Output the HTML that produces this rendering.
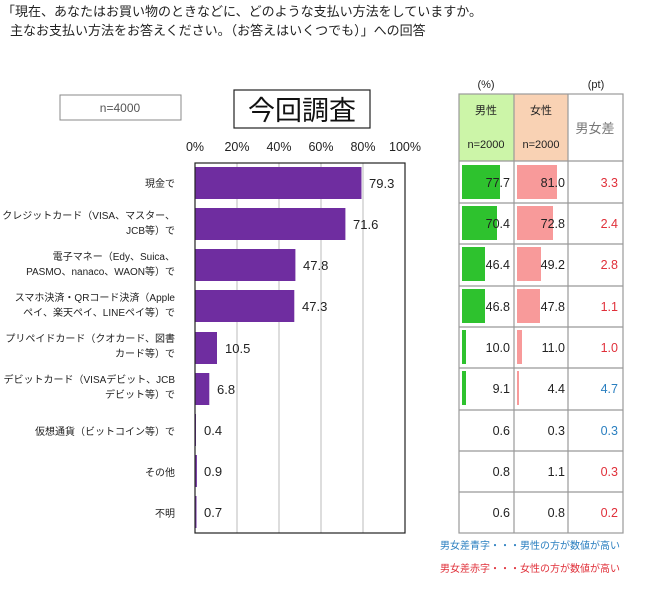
<!DOCTYPE html>
<html><head><meta charset="utf-8"><style>
html,body{margin:0;padding:0;background:#fff;}
svg{display:block;font-family:"Liberation Sans","Noto Sans CJK JP",sans-serif;}
</style></head><body>
<svg width="650" height="593" xmlns="http://www.w3.org/2000/svg">
<text x="2" y="16" font-size="13" fill="#222">「現在、あなたはお買い物のときなどに、どのような支払い方法をしていますか。</text>
<text x="10" y="35" font-size="13" fill="#222">主なお支払い方法をお答えください。（お答えはいくつでも）」への回答</text>
<rect x="60" y="95" width="121" height="25" fill="#fff" stroke="#888" stroke-width="1"/>
<text x="120" y="112" font-size="12" fill="#555" text-anchor="middle">n=4000</text>
<rect x="234" y="90" width="136" height="38" fill="#fff" stroke="#222" stroke-width="1.2"/>
<text x="302" y="120" font-size="27" fill="#111" text-anchor="middle">今回調査</text>
<g font-size="12.5" fill="#222" text-anchor="middle">
<text x="195" y="151">0%</text><text x="237" y="151">20%</text><text x="279" y="151">40%</text>
<text x="321" y="151">60%</text><text x="363" y="151">80%</text><text x="405" y="151">100%</text>
</g>
<g stroke="#bbb" stroke-width="1">
<line x1="237" y1="163" x2="237" y2="533"/><line x1="279" y1="163" x2="279" y2="533"/>
<line x1="321" y1="163" x2="321" y2="533"/><line x1="363" y1="163" x2="363" y2="533"/>
</g>
<g fill="#6f2da0">
<rect x="195" y="167" width="166.5" height="32"/>
<rect x="195" y="208" width="150.4" height="32"/>
<rect x="195" y="249" width="100.4" height="32"/>
<rect x="195" y="290" width="99.3" height="32"/>
<rect x="195" y="332" width="22" height="32"/>
<rect x="195" y="373" width="14.3" height="32"/>
<rect x="195" y="414" width="1" height="32"/>
<rect x="195" y="455" width="1.9" height="32"/>
<rect x="195" y="496" width="1.5" height="32"/>
</g>
<rect x="195" y="163" width="210" height="370" fill="none" stroke="#222" stroke-width="1.2"/>
<g font-size="13" fill="#222">
<text x="369" y="188">79.3</text><text x="353" y="229">71.6</text><text x="303" y="270">47.8</text>
<text x="302" y="311">47.3</text><text x="225" y="353">10.5</text><text x="217" y="394">6.8</text>
<text x="204" y="435">0.4</text><text x="204" y="476">0.9</text><text x="204" y="517">0.7</text>
</g>
<g font-size="10" fill="#222" text-anchor="end">
<text x="175" y="187">現金で</text>
<text x="175" y="219">クレジットカード（VISA、マスター、</text><text x="175" y="234">JCB等）で</text>
<text x="175" y="260">電子マネー（Edy、Suica、</text><text x="175" y="275">PASMO、nanaco、WAON等）で</text>
<text x="175" y="301">スマホ決済・QRコード決済（Apple</text><text x="175" y="316">ペイ、楽天ペイ、LINEペイ等）で</text>
<text x="175" y="342">プリペイドカード（クオカード、図書</text><text x="175" y="357">カード等）で</text>
<text x="175" y="383">デビットカード（VISAデビット、JCB</text><text x="175" y="398">デビット等）で</text>
<text x="175" y="435">仮想通貨（ビットコイン等）で</text>
<text x="175" y="476">その他</text>
<text x="175" y="517">不明</text>
</g>
<text x="486" y="88" font-size="11" fill="#222" text-anchor="middle">(%)</text>
<text x="596" y="88" font-size="11" fill="#222" text-anchor="middle">(pt)</text>
<rect x="459" y="94" width="55" height="67" fill="#ccf5a8"/>
<rect x="514" y="94" width="54" height="67" fill="#f9d2b4"/>
<g font-size="11" fill="#222" text-anchor="middle">
<text x="486" y="114">男性</text><text x="541" y="114">女性</text>
<text x="486" y="148">n=2000</text><text x="541" y="148">n=2000</text>
</g>
<text x="595" y="133" font-size="13" fill="#777" text-anchor="middle">男女差</text>
<g fill="#2ec22e">
<rect x="462" y="165" width="38" height="34"/><rect x="462" y="206" width="35" height="34"/>
<rect x="462" y="247" width="23" height="34"/><rect x="462" y="289" width="23" height="34"/>
<rect x="462" y="330" width="4" height="34"/><rect x="462" y="371" width="4" height="34"/>
</g>
<g fill="#f89a9a">
<rect x="517" y="165" width="40" height="34"/><rect x="517" y="206" width="36" height="34"/>
<rect x="517" y="247" width="24" height="34"/><rect x="517" y="289" width="23" height="34"/>
<rect x="517" y="330" width="5" height="34"/><rect x="517" y="371" width="2" height="34"/>
</g>
<g stroke="#999" stroke-width="1.2" fill="none">
<rect x="459" y="94" width="164" height="439"/>
<line x1="514" y1="94" x2="514" y2="533"/><line x1="568" y1="94" x2="568" y2="533"/>
<line x1="459" y1="161" x2="623" y2="161"/><line x1="459" y1="203" x2="623" y2="203"/>
<line x1="459" y1="244" x2="623" y2="244"/><line x1="459" y1="286" x2="623" y2="286"/>
<line x1="459" y1="327" x2="623" y2="327"/><line x1="459" y1="368" x2="623" y2="368"/>
<line x1="459" y1="410" x2="623" y2="410"/><line x1="459" y1="451" x2="623" y2="451"/>
<line x1="459" y1="492" x2="623" y2="492"/>
</g>
<g font-size="12.5" fill="#222" text-anchor="end">
<text x="510" y="187">77.7</text><text x="565" y="187">81.0</text>
<text x="510" y="228">70.4</text><text x="565" y="228">72.8</text>
<text x="510" y="269">46.4</text><text x="565" y="269">49.2</text>
<text x="510" y="311">46.8</text><text x="565" y="311">47.8</text>
<text x="510" y="352">10.0</text><text x="565" y="352">11.0</text>
<text x="510" y="393">9.1</text><text x="565" y="393">4.4</text>
<text x="510" y="435">0.6</text><text x="565" y="435">0.3</text>
<text x="510" y="476">0.8</text><text x="565" y="476">1.1</text>
<text x="510" y="517">0.6</text><text x="565" y="517">0.8</text>
</g>
<g font-size="12.5" text-anchor="end">
<text x="618" y="187" fill="#e0303a">3.3</text><text x="618" y="228" fill="#e0303a">2.4</text>
<text x="618" y="269" fill="#e0303a">2.8</text><text x="618" y="311" fill="#e0303a">1.1</text>
<text x="618" y="352" fill="#e0303a">1.0</text><text x="618" y="393" fill="#2a7fc0">4.7</text>
<text x="618" y="435" fill="#2a7fc0">0.3</text><text x="618" y="476" fill="#e0303a">0.3</text>
<text x="618" y="517" fill="#e0303a">0.2</text>
</g>
<text x="620" y="549" font-size="10" fill="#2a7fc0" text-anchor="end">男女差青字・・・男性の方が数値が高い</text>
<text x="620" y="572" font-size="10" fill="#e0303a" text-anchor="end">男女差赤字・・・女性の方が数値が高い</text>
</svg>
</body></html>
